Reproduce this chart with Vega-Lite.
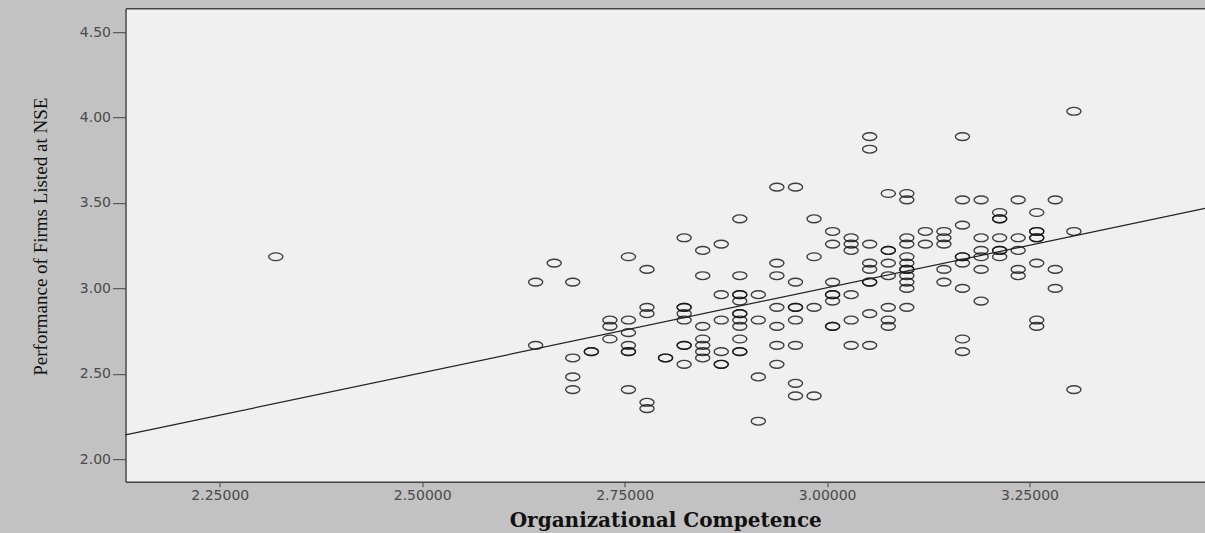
{
  "$schema": "https://vega.github.io/schema/vega-lite/v6.json",
  "width": 1079.5,
  "height": 473.5,
  "autosize": {"type": "none"},
  "padding": {"left": 125.5, "top": 8.2, "right": 0, "bottom": 51.3},
  "background": "#c2c2c2",
  "config": {"view": {"fill": "#f0f0f0", "stroke": null}, "axis": {"grid": false}},
  "datasets": {
    "pts": [
      {"x": 2.3192, "y": 3.1852},
      {"x": 2.6401, "y": 3.0370}, {"x": 2.6401, "y": 2.6667},
      {"x": 2.6630, "y": 3.1481},
      {"x": 2.6859, "y": 3.0370}, {"x": 2.6859, "y": 2.5926}, {"x": 2.6859, "y": 2.4815}, {"x": 2.6859, "y": 2.4074},
      {"x": 2.7089, "y": 2.6296}, {"x": 2.7089, "y": 2.6296},
      {"x": 2.7318, "y": 2.8148}, {"x": 2.7318, "y": 2.7778}, {"x": 2.7318, "y": 2.7037},
      {"x": 2.7547, "y": 3.1852}, {"x": 2.7547, "y": 2.8148}, {"x": 2.7547, "y": 2.7407}, {"x": 2.7547, "y": 2.6667}, {"x": 2.7547, "y": 2.6296}, {"x": 2.7547, "y": 2.6296}, {"x": 2.7547, "y": 2.4074},
      {"x": 2.7776, "y": 3.1111}, {"x": 2.7776, "y": 2.8889}, {"x": 2.7776, "y": 2.8519}, {"x": 2.7776, "y": 2.3333}, {"x": 2.7776, "y": 2.2963},
      {"x": 2.8005, "y": 2.5926}, {"x": 2.8005, "y": 2.5926},
      {"x": 2.8235, "y": 3.2963}, {"x": 2.8235, "y": 2.8889}, {"x": 2.8235, "y": 2.8889}, {"x": 2.8235, "y": 2.8519}, {"x": 2.8235, "y": 2.8148}, {"x": 2.8235, "y": 2.6667}, {"x": 2.8235, "y": 2.6667}, {"x": 2.8235, "y": 2.5556},
      {"x": 2.8464, "y": 3.2222}, {"x": 2.8464, "y": 3.0741}, {"x": 2.8464, "y": 2.7778}, {"x": 2.8464, "y": 2.7037}, {"x": 2.8464, "y": 2.6667}, {"x": 2.8464, "y": 2.6296}, {"x": 2.8464, "y": 2.5926},
      {"x": 2.8693, "y": 3.2593}, {"x": 2.8693, "y": 2.9630}, {"x": 2.8693, "y": 2.8148}, {"x": 2.8693, "y": 2.6296}, {"x": 2.8693, "y": 2.5556}, {"x": 2.8693, "y": 2.5556},
      {"x": 2.8922, "y": 3.4074}, {"x": 2.8922, "y": 3.0741}, {"x": 2.8922, "y": 2.9630}, {"x": 2.8922, "y": 2.9630}, {"x": 2.8922, "y": 2.9259}, {"x": 2.8922, "y": 2.8519}, {"x": 2.8922, "y": 2.8519}, {"x": 2.8922, "y": 2.8148}, {"x": 2.8922, "y": 2.7778}, {"x": 2.8922, "y": 2.7037}, {"x": 2.8922, "y": 2.6296}, {"x": 2.8922, "y": 2.6296},
      {"x": 2.9151, "y": 2.9630}, {"x": 2.9151, "y": 2.8148}, {"x": 2.9151, "y": 2.4815}, {"x": 2.9151, "y": 2.2222},
      {"x": 2.9380, "y": 3.5926}, {"x": 2.9380, "y": 3.1481}, {"x": 2.9380, "y": 3.0741}, {"x": 2.9380, "y": 2.8889}, {"x": 2.9380, "y": 2.7778}, {"x": 2.9380, "y": 2.6667}, {"x": 2.9380, "y": 2.5556},
      {"x": 2.9610, "y": 3.5926}, {"x": 2.9610, "y": 3.0370}, {"x": 2.9610, "y": 2.8889}, {"x": 2.9610, "y": 2.8889}, {"x": 2.9610, "y": 2.8148}, {"x": 2.9610, "y": 2.6667}, {"x": 2.9610, "y": 2.4444}, {"x": 2.9610, "y": 2.3704},
      {"x": 2.9839, "y": 3.4074}, {"x": 2.9839, "y": 3.1852}, {"x": 2.9839, "y": 2.8889}, {"x": 2.9839, "y": 2.3704},
      {"x": 3.0068, "y": 3.3333}, {"x": 3.0068, "y": 3.2593}, {"x": 3.0068, "y": 3.0370}, {"x": 3.0068, "y": 2.9630}, {"x": 3.0068, "y": 2.9630}, {"x": 3.0068, "y": 2.9259}, {"x": 3.0068, "y": 2.7778}, {"x": 3.0068, "y": 2.7778},
      {"x": 3.0297, "y": 3.2963}, {"x": 3.0297, "y": 3.2593}, {"x": 3.0297, "y": 3.2222}, {"x": 3.0297, "y": 2.9630}, {"x": 3.0297, "y": 2.8148}, {"x": 3.0297, "y": 2.6667},
      {"x": 3.0526, "y": 3.8889}, {"x": 3.0526, "y": 3.8148}, {"x": 3.0526, "y": 3.2593}, {"x": 3.0526, "y": 3.1481}, {"x": 3.0526, "y": 3.1111}, {"x": 3.0526, "y": 3.0370}, {"x": 3.0526, "y": 3.0370}, {"x": 3.0526, "y": 2.8519}, {"x": 3.0526, "y": 2.6667},
      {"x": 3.0756, "y": 3.5556}, {"x": 3.0756, "y": 3.2222}, {"x": 3.0756, "y": 3.2222}, {"x": 3.0756, "y": 3.1481}, {"x": 3.0756, "y": 3.0741}, {"x": 3.0756, "y": 2.8889}, {"x": 3.0756, "y": 2.8148}, {"x": 3.0756, "y": 2.7778},
      {"x": 3.0985, "y": 3.5556}, {"x": 3.0985, "y": 3.5185}, {"x": 3.0985, "y": 3.2963}, {"x": 3.0985, "y": 3.2593}, {"x": 3.0985, "y": 3.1852}, {"x": 3.0985, "y": 3.1481}, {"x": 3.0985, "y": 3.1111}, {"x": 3.0985, "y": 3.1111}, {"x": 3.0985, "y": 3.0741}, {"x": 3.0985, "y": 3.0370}, {"x": 3.0985, "y": 3.0000}, {"x": 3.0985, "y": 2.8889},
      {"x": 3.1214, "y": 3.3333}, {"x": 3.1214, "y": 3.2593},
      {"x": 3.1443, "y": 3.3333}, {"x": 3.1443, "y": 3.2963}, {"x": 3.1443, "y": 3.2593}, {"x": 3.1443, "y": 3.1111}, {"x": 3.1443, "y": 3.0370},
      {"x": 3.1672, "y": 3.8889}, {"x": 3.1672, "y": 3.5185}, {"x": 3.1672, "y": 3.3704}, {"x": 3.1672, "y": 3.1852}, {"x": 3.1672, "y": 3.1852}, {"x": 3.1672, "y": 3.1481}, {"x": 3.1672, "y": 3.0000}, {"x": 3.1672, "y": 2.7037}, {"x": 3.1672, "y": 2.6296},
      {"x": 3.1902, "y": 3.5185}, {"x": 3.1902, "y": 3.2963}, {"x": 3.1902, "y": 3.2222}, {"x": 3.1902, "y": 3.1852}, {"x": 3.1902, "y": 3.1111}, {"x": 3.1902, "y": 2.9259},
      {"x": 3.2131, "y": 3.4444}, {"x": 3.2131, "y": 3.4074}, {"x": 3.2131, "y": 3.4074}, {"x": 3.2131, "y": 3.2963}, {"x": 3.2131, "y": 3.2222}, {"x": 3.2131, "y": 3.2222}, {"x": 3.2131, "y": 3.1852},
      {"x": 3.2360, "y": 3.5185}, {"x": 3.2360, "y": 3.2963}, {"x": 3.2360, "y": 3.2222}, {"x": 3.2360, "y": 3.1111}, {"x": 3.2360, "y": 3.0741},
      {"x": 3.2589, "y": 3.4444}, {"x": 3.2589, "y": 3.3333}, {"x": 3.2589, "y": 3.3333}, {"x": 3.2589, "y": 3.2963}, {"x": 3.2589, "y": 3.2963}, {"x": 3.2589, "y": 3.1481}, {"x": 3.2589, "y": 2.8148}, {"x": 3.2589, "y": 2.7778},
      {"x": 3.2818, "y": 3.5185}, {"x": 3.2818, "y": 3.1111}, {"x": 3.2818, "y": 3.0000},
      {"x": 3.3048, "y": 4.0370}, {"x": 3.3048, "y": 3.3333}, {"x": 3.3048, "y": 2.4074}
    ],
    "fit": [
      {"x": 2.1336, "y": 2.142},
      {"x": 3.4667, "y": 3.468}
    ]
  },
  "layer": [
    {
      "data": {"name": "pts"},
      "mark": {
        "type": "point",
        "shape": "M -1 0 A 1 0.55 0 1 0 1 0 A 1 0.55 0 1 0 -1 0 Z",
        "size": 200,
        "filled": false,
        "stroke": "#111111",
        "strokeWidth": 1.4,
        "opacity": 0.8
      },
      "encoding": {
        "x": {
          "field": "x", "type": "quantitative",
          "scale": {"domain": [2.1336, 3.4667], "nice": false, "zero": false},
          "axis": {
            "values": [2.25, 2.5, 2.75, 3.0, 3.25],
            "format": ".5f",
            "tickSize": 5, "tickColor": "#444",
            "labelPadding": 2,
            "labelFont": "DejaVu Sans", "labelFontSize": 14, "labelColor": "#4a4a4a",
            "domainColor": "#444", "domainWidth": 1.5,
            "title": "Organizational Competence",
            "titleFont": "DejaVu Serif", "titleFontWeight": "bold", "titleFontSize": 20, "titleColor": "#111",
            "titleBaseline": "alphabetic", "titleY": 45
          }
        },
        "y": {
          "field": "y", "type": "quantitative",
          "scale": {"domain": [1.8682, 4.6405], "nice": false, "zero": false},
          "axis": {
            "values": [2, 2.5, 3, 3.5, 4, 4.5],
            "format": ".2f",
            "tickSize": 13, "tickColor": "#444",
            "labelPadding": 2,
            "labelFont": "DejaVu Sans", "labelFontSize": 14, "labelColor": "#4a4a4a",
            "domainColor": "#444", "domainWidth": 1.5,
            "title": "Performance of Firms Listed at NSE",
            "titleFont": "Liberation Serif", "titleFontWeight": "normal", "titleFontSize": 19, "titleColor": "#111",
            "titleX": -75.5, "titleY": 228
          }
        }
      }
    },
    {
      "data": {"name": "fit"},
      "mark": {"type": "line", "color": "#222", "strokeWidth": 1.2},
      "encoding": {
        "x": {
          "field": "x", "type": "quantitative",
          "axis": {"orient": "top", "labels": false, "ticks": false, "title": null, "domain": true, "domainColor": "#444", "domainWidth": 1.5}
        },
        "y": {"field": "y", "type": "quantitative", "axis": null}
      }
    }
  ],
  "resolve": {"axis": {"x": "independent", "y": "independent"}}
}
